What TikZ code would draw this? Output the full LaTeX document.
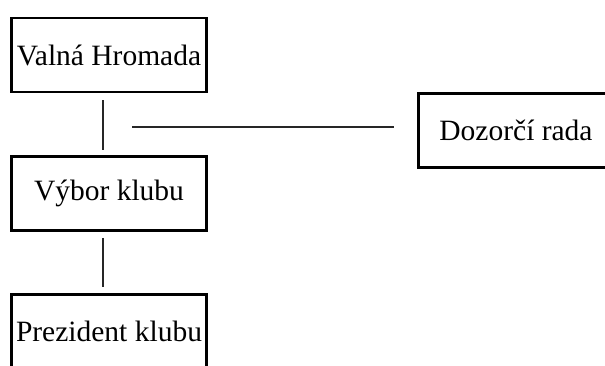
\documentclass[tikz,border=0pt]{standalone}
\usepackage{fontspec}
\setmainfont{Liberation Serif}
\begin{document}
\begin{tikzpicture}[x=1pt,y=-1pt,
  orgbox/.style={draw=black,line width=2.8pt,fill=white,inner sep=0pt,
    minimum width=195.5pt,minimum height=74pt,
    font=\fontsize{29.5}{35}\selectfont},
  conn/.style={draw=black!85,line width=1.5pt}]
\useasboundingbox (0,0) rectangle (605,365);
\begin{scope}
\clip (0,0) rectangle (605,365);
\node[orgbox] (vh) at (109,55) {Valná Hromada};
\node[orgbox] (vk) at (109,193.5) {Výbor klubu};
\node[orgbox] (pk) at (109,331.5) {Prezident klubu};
\node[orgbox] (dr) at (516,130.5) {Dozorčí rada};
\coordinate (hs) at (132,127);
\draw[conn] ([xshift=-6pt,yshift=-7pt]vh.south) -- ([xshift=-6pt,yshift=5pt]vk.north);
\draw[conn] ([xshift=-6pt,yshift=-6pt]vk.south) -- ([xshift=-6pt,yshift=6pt]pk.north);
\draw[conn] (hs) -- ([xshift=-23pt,yshift=3.5pt]dr.west);
\end{scope}
\end{tikzpicture}
\end{document}
